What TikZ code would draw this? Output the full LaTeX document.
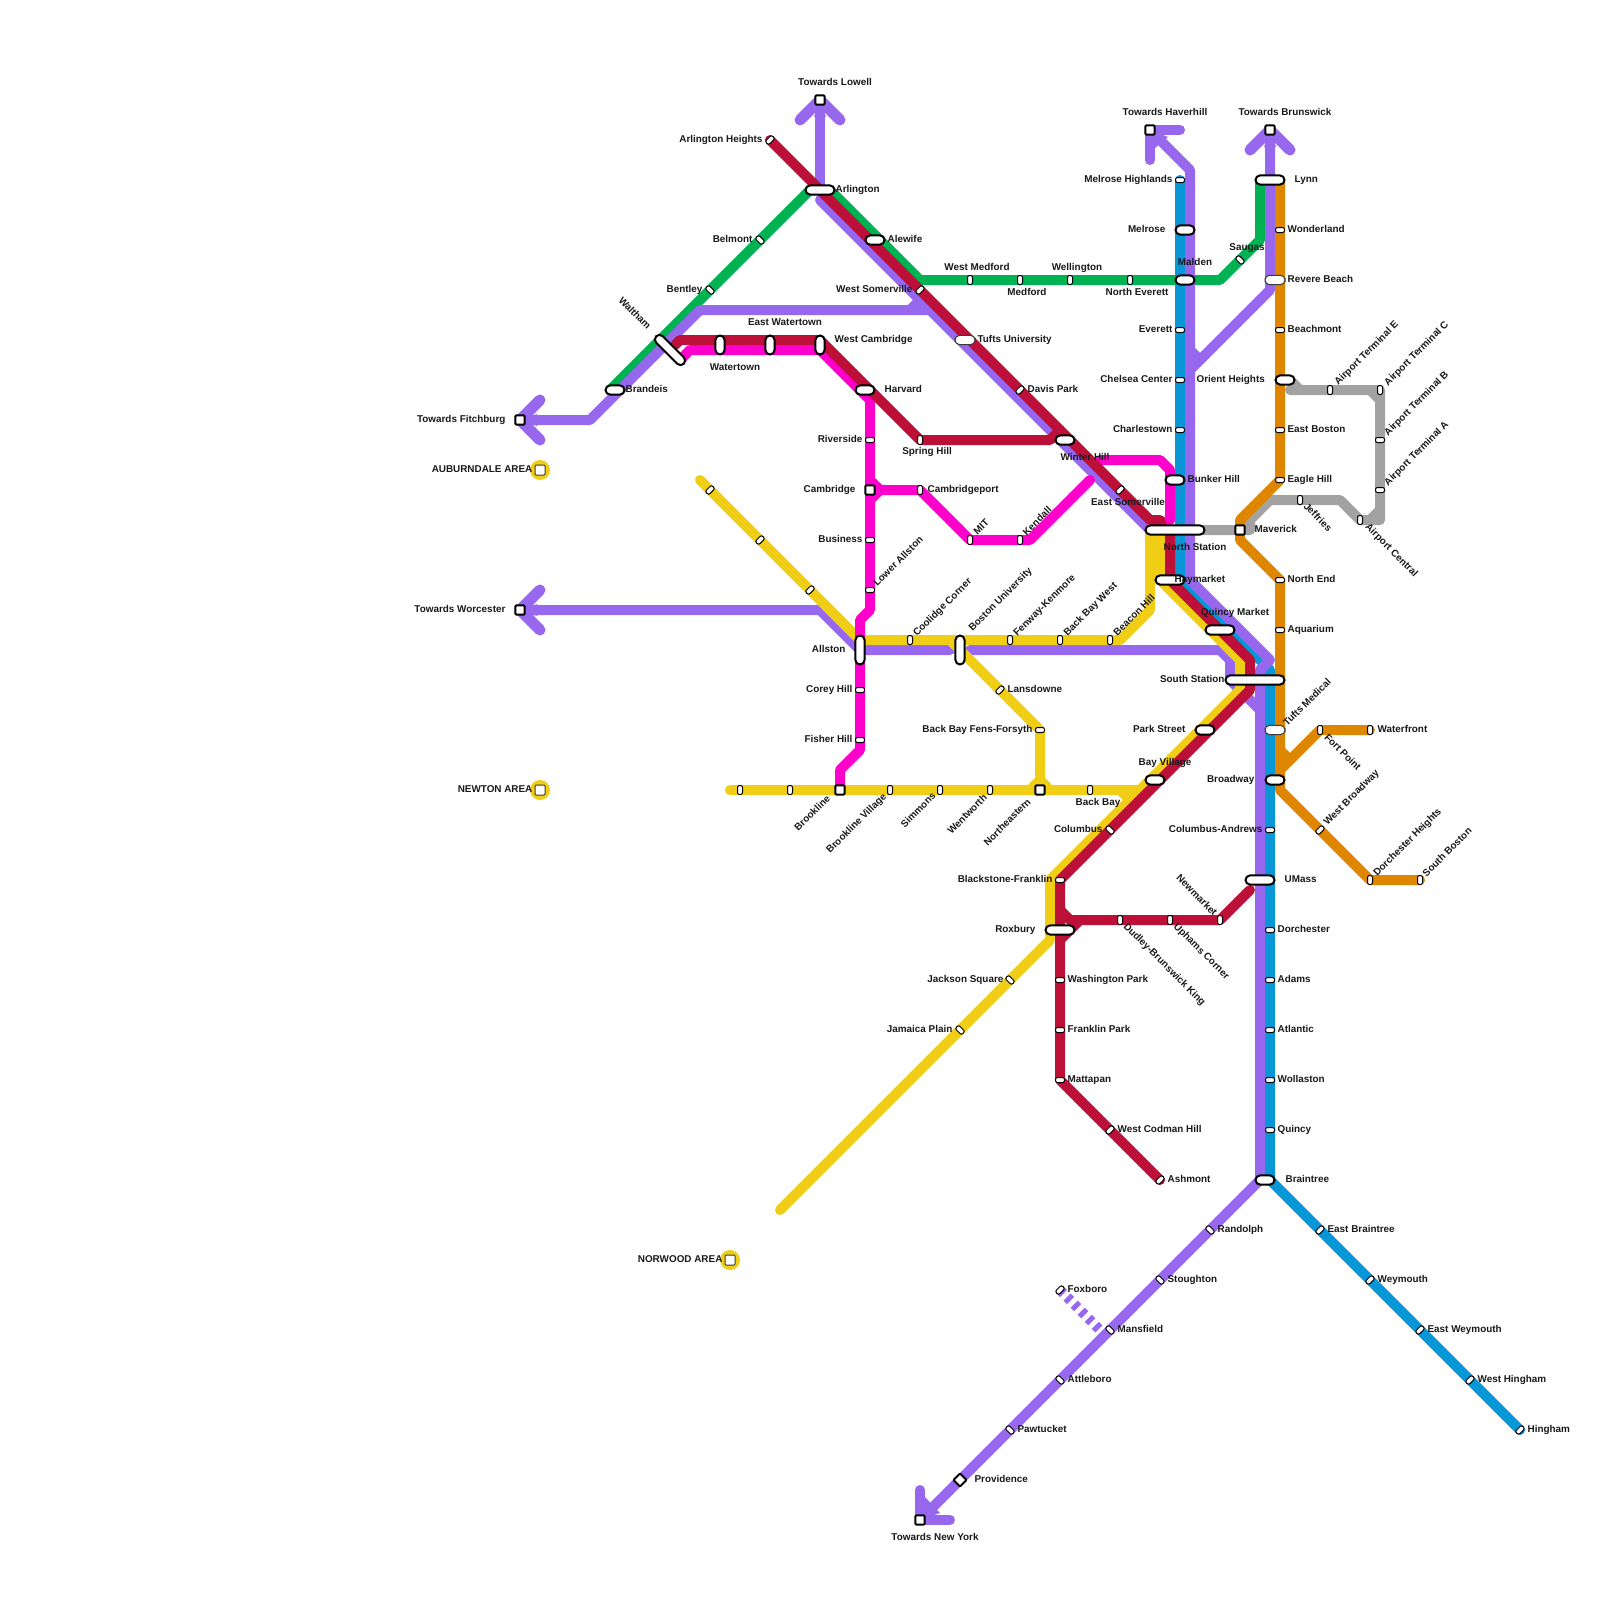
\documentclass[tikz,border=0pt]{standalone}
\usepackage{fontspec}
\setmainfont{Liberation Sans}
\definecolor{cGreen}{HTML}{00B251}
\definecolor{cPurple}{HTML}{9768EE}
\definecolor{cRed}{HTML}{BD1038}
\definecolor{cMagenta}{HTML}{FF00CC}
\definecolor{cBlue}{HTML}{0896D7}
\definecolor{cOrange}{HTML}{DF8600}
\definecolor{cYellow}{HTML}{F0CE15}
\definecolor{cGray}{HTML}{A2A2A2}
\definecolor{cSoft}{HTML}{3A3A3A}
\pgfdeclarelayer{lines}
\pgfsetlayers{lines,main}
\tikzset{
  ln/.style={line width=5pt,line cap=round,line join=round},
  arm/.style={line width=5.5pt,line cap=round,line join=round,cPurple},
  sm/.style={draw=black,fill=white,line width=.5pt,inner sep=0pt,minimum width=4.5pt,minimum height=2.5pt,rounded corners=1pt},
  pill/.style={draw=black,fill=white,line width=1pt,inner sep=0pt,minimum width=#1,minimum height=4.6pt,rounded corners=2.3pt},
  softpill/.style={draw=cSoft,fill=white,line width=.5pt,inner sep=0pt,minimum width=#1,minimum height=4.7pt,rounded corners=2.35pt},
  sq/.style={draw=black,fill=white,line width=1pt,inner sep=0pt,minimum size=4.6pt,rounded corners=.5pt},
  softsq/.style={draw=cSoft,fill=white,line width=.5pt,inner sep=0pt,minimum size=5pt,rounded corners=.5pt},
  tx/.style={font=\bfseries\fontsize{4.95pt}{6pt}\selectfont,inner sep=0pt,text height=3.6pt,text depth=0pt,text=black!90},
  lL/.style={tx,anchor=west,xshift=-.4pt},
  lR/.style={tx,anchor=east,xshift=.4pt},
  lC/.style={tx},
  lU/.style={tx,rotate=45},
  lD/.style={tx,rotate=-45},
  V/.style={rotate=90},
  U/.style={rotate=45},
  D/.style={rotate=-45}
}
\newcommand{\St}[4]{\node[#2] (#1) at (#3,#4) {};}
\newcommand{\Lb}[5]{\node[#2] (#1) at (#3,#4) {#5};}
\begin{document}
\begin{tikzpicture}[x=.5pt,y=-.5pt]
\useasboundingbox (0,0) rectangle (1600,1600);
% area markers
\fill[cYellow] (540,470) circle (10);
\fill[cYellow] (540,790) circle (10);
\fill[cYellow] (730,1260) circle (10);
\St{aub}{softsq}{540}{470}
\St{new}{softsq}{540}{790}
\St{nor}{softsq}{730}{1260}
% terminals
\St{lowell}{sq}{820}{100}
\St{fitch}{sq}{520}{420}
\St{worc}{sq}{520}{610}
\St{haver}{sq}{1150}{130}
\St{brun}{sq}{1270}{130}
\St{ny}{sq}{920}{1520}
\St{prov}{sq,rotate=45}{960}{1480}
% top left
\St{aheights}{sm,U}{770}{140}
\St{arl}{pill=14.5pt}{820}{190}
\St{belm}{sm,D}{760}{240}
\St{bent}{sm,D}{710}{290}
\St{walt}{pill=19.5pt,D}{670}{350}
\St{brand}{pill=9.5pt}{615}{390}
\St{ewat}{pill=9.5pt,V}{770}{345}
\St{wat}{pill=9.5pt,V}{720}{345}
\St{wcam}{pill=9.5pt,V}{820}{345}
\St{harv}{pill=9.5pt}{865}{390}
\St{river}{sm}{870}{440}
\St{cam}{sq}{870}{490}
\St{camp}{sm,V}{920}{490}
\St{spring}{sm,V}{920}{440}
\St{alew}{pill=9.5pt}{875}{240}
\St{wsom}{sm,U}{920}{290}
\St{tufts}{softpill=10pt}{965}{340}
\St{davis}{sm,U}{1020}{390}
\St{winter}{pill=9.5pt}{1065}{440}
\St{esom}{sm,U}{1120}{490}
% green row
\St{wmed}{sm,V}{970}{280}
\St{med}{sm,V}{1020}{280}
\St{well}{sm,V}{1070}{280}
\St{nev}{sm,V}{1130}{280}
\St{saug}{sm,D}{1240}{260}
% blue/purple column
\St{melh}{sm}{1180}{180}
\St{melr}{pill=9.5pt}{1185}{230}
\St{mald}{pill=9.5pt}{1185}{280}
\St{ever}{sm}{1180}{330}
\St{chel}{sm}{1180}{380}
\St{charl}{sm}{1180}{430}
\St{bunk}{pill=9.5pt}{1175}{480}
\St{nsta}{pill=29.5pt}{1175}{530}
\St{hay}{pill=14.5pt}{1170}{580}
\St{qm}{pill=14.5pt}{1220}{630}
\St{ssta}{pill=29.5pt}{1255}{680}
\St{park}{pill=9.5pt}{1205}{730}
\St{bayv}{pill=9.5pt}{1155}{780}
\St{colu}{sm,D}{1110}{830}
\St{blf}{sm}{1060}{880}
\St{rox}{pill=14.5pt}{1060}{930}
\St{wash}{sm}{1060}{980}
\St{frank}{sm}{1060}{1030}
\St{matt}{sm}{1060}{1080}
\St{wcod}{sm,U}{1110}{1130}
\St{ash}{sm,U}{1160}{1180}
\St{dud}{sm,V}{1120}{920}
\St{uph}{sm,V}{1170}{920}
\St{newm}{sm,V}{1220}{920}
% orange column
\St{lynn}{pill=14.5pt}{1270}{180}
\St{wond}{sm}{1280}{230}
\St{rev}{softpill=10pt}{1275}{280}
\St{beach}{sm}{1280}{330}
\St{ori}{pill=9.5pt}{1285}{380}
\St{ebos}{sm}{1280}{430}
\St{eagle}{sm}{1280}{480}
\St{mav}{sq}{1240}{530}
\St{nend}{sm}{1280}{580}
\St{aqua}{sm}{1280}{630}
\St{tmed}{softpill=10pt}{1275}{730}
\St{broad}{pill=9.5pt}{1275}{780}
\St{fort}{sm,V}{1320}{730}
\St{wfront}{sm,V}{1370}{730}
\St{wbro}{sm,U}{1320}{830}
\St{dorh}{sm,V}{1370}{880}
\St{sbos}{sm,V}{1420}{880}
% gray
\St{ate}{sm,V}{1330}{390}
\St{atc}{sm,V}{1380}{390}
\St{atb}{sm}{1380}{440}
\St{ata}{sm}{1380}{490}
\St{jeff}{sm,V}{1300}{500}
\St{apc}{sm,V}{1360}{520}
% lower blue
\St{cand}{sm}{1270}{830}
\St{umass}{pill=14.5pt}{1260}{880}
\St{dorc}{sm}{1270}{930}
\St{adams}{sm}{1270}{980}
\St{atl}{sm}{1270}{1030}
\St{woll}{sm}{1270}{1080}
\St{quin}{sm}{1270}{1130}
\St{brain}{pill=9.5pt}{1265}{1180}
\St{ebra}{sm,U}{1320}{1230}
\St{weym}{sm,U}{1370}{1280}
\St{ewey}{sm,U}{1420}{1330}
\St{whin}{sm,U}{1470}{1380}
\St{hing}{sm,U}{1520}{1430}
% lower purple
\St{rand}{sm,D}{1210}{1230}
\St{stou}{sm,D}{1160}{1280}
\St{mans}{sm,D}{1110}{1330}
\St{attl}{sm,D}{1060}{1380}
\St{pawt}{sm,D}{1010}{1430}
\St{foxb}{sm,U}{1060}{1290}
\coordinate (foxend) at (1100,1330);
% magenta / yellow
\St{bus}{sm}{870}{540}
\St{lall}{sm}{870}{590}
\St{mit}{sm,V}{970}{540}
\St{kend}{sm,V}{1020}{540}
\St{allst}{pill=14.5pt,V}{860}{650}
\St{corey}{sm}{860}{690}
\St{fish}{sm}{860}{740}
\St{yel1}{sm,U}{710}{490}
\St{yel2}{sm,U}{760}{540}
\St{yel3}{sm,U}{810}{590}
\St{cool}{sm,V}{910}{640}
\St{bu}{pill=14.5pt,V}{960}{650}
\St{fenw}{sm,V}{1010}{640}
\St{bbw}{sm,V}{1060}{640}
\St{beac}{sm,V}{1110}{640}
\St{lans}{sm,U}{1000}{690}
\St{bbf}{sm}{1040}{730}
\St{y790a}{sm,V}{740}{790}
\St{y790b}{sm,V}{790}{790}
\St{brook}{sq}{840}{790}
\St{bvil}{sm,V}{890}{790}
\St{simm}{sm,V}{940}{790}
\St{went}{sm,V}{990}{790}
\St{neast}{sq}{1040}{790}
\St{bbay}{sm,V}{1090}{790}
\St{jack}{sm,D}{1010}{980}
\St{jam}{sm,D}{960}{1030}
% labels
\Lb{t1}{lC}{835}{82}{Towards Lowell}
\Lb{t2}{lC}{1165}{112}{Towards Haverhill}
\Lb{t3}{lC}{1285}{112}{Towards Brunswick}
\Lb{t4}{lR}{505}{419}{Towards Fitchburg}
\Lb{t5}{lR}{505}{609}{Towards Worcester}
\Lb{t6}{lC}{935}{1537}{Towards New York}
\Lb{t7}{lR}{532}{469}{AUBURNDALE AREA}
\Lb{t8}{lR}{532}{789}{NEWTON AREA}
\Lb{t9}{lR}{722}{1259}{NORWOOD AREA}
\Lb{a1}{lR}{762}{139}{Arlington Heights}
\Lb{a2}{lL}{836}{189}{Arlington}
\Lb{a3}{lR}{752}{239}{Belmont}
\Lb{a4}{lR}{702}{289}{Bentley}
\Lb{a5}{lD}{635}{313}{Waltham}
\Lb{a6}{lL}{626}{389}{Brandeis}
\Lb{a7}{lC}{785}{322}{East Watertown}
\Lb{a8}{lC}{735}{367}{Watertown}
\Lb{a9}{lL}{835}{339}{West Cambridge}
\Lb{b1}{lL}{885}{389}{Harvard}
\Lb{b2}{lR}{862}{439}{Riverside}
\Lb{b3}{lR}{855}{489}{Cambridge}
\Lb{b4}{lL}{928}{489}{Cambridgeport}
\Lb{b5}{lC}{927}{451}{Spring Hill}
\Lb{b6}{lL}{888}{239}{Alewife}
\Lb{b7}{lR}{912}{289}{West Somerville}
\Lb{b8}{lL}{978}{339}{Tufts University}
\Lb{b9}{lL}{1028}{389}{Davis Park}
\Lb{c1}{lC}{1085}{457}{Winter Hill}
\Lb{c2}{lC}{1128}{502}{East Somerville}
\Lb{c3}{lC}{977}{267}{West Medford}
\Lb{c4}{lC}{1027}{292}{Medford}
\Lb{c5}{lC}{1077}{267}{Wellington}
\Lb{c6}{lC}{1137}{292}{North Everett}
\Lb{c7}{lC}{1247}{247}{Saugas}
\Lb{d1}{lR}{1172}{179}{Melrose Highlands}
\Lb{d2}{lR}{1165}{229}{Melrose}
\Lb{d3}{lC}{1195}{262}{Malden}
\Lb{d4}{lR}{1172}{329}{Everett}
\Lb{d5}{lR}{1172}{379}{Chelsea Center}
\Lb{d6}{lL}{1197}{379}{Orient Heights}
\Lb{d7}{lR}{1172}{429}{Charlestown}
\Lb{d8}{lL}{1188}{479}{Bunker Hill}
\Lb{d9}{lC}{1195}{547}{North Station}
\Lb{e1}{lL}{1175}{579}{Haymarket}
\Lb{e2}{lC}{1235}{612}{Quincy Market}
\Lb{e3}{lR}{1224}{679}{South Station}
\Lb{e4}{lR}{1185}{729}{Park Street}
\Lb{e5}{lC}{1165}{762}{Bay Village}
\Lb{e6}{lC}{1098}{802}{Back Bay}
\Lb{e7}{lR}{1102}{829}{Columbus}
\Lb{e8}{lR}{1052}{879}{Blackstone-Franklin}
\Lb{e9}{lR}{1035}{929}{Roxbury}
\Lb{f1}{lL}{1068}{979}{Washington Park}
\Lb{f2}{lL}{1068}{1029}{Franklin Park}
\Lb{f3}{lL}{1068}{1079}{Mattapan}
\Lb{f4}{lL}{1118}{1129}{West Codman Hill}
\Lb{f5}{lL}{1168}{1179}{Ashmont}
\Lb{f6}{lR}{1003}{979}{Jackson Square}
\Lb{f7}{lR}{952}{1029}{Jamaica Plain}
\Lb{f8}{lD}{1165}{964}{Dudley-Brunswick King}
\Lb{f9}{lD}{1202}{951}{Uphams Corner}
\Lb{g1}{lD}{1197}{895}{Newmarket}
\Lb{g2}{lL}{1295}{179}{Lynn}
\Lb{g3}{lL}{1288}{229}{Wonderland}
\Lb{g4}{lL}{1288}{279}{Revere Beach}
\Lb{g5}{lL}{1288}{329}{Beachmont}
\Lb{g6}{lL}{1288}{429}{East Boston}
\Lb{g7}{lL}{1288}{479}{Eagle Hill}
\Lb{g8}{lL}{1255}{529}{Maverick}
\Lb{g9}{lL}{1288}{579}{North End}
\Lb{h1}{lL}{1288}{629}{Aquarium}
\Lb{h2}{lU}{1307}{702}{Tufts Medical}
\Lb{h3}{lD}{1343}{752}{Fort Point}
\Lb{h4}{lL}{1378}{729}{Waterfront}
\Lb{h5}{lR}{1254}{779}{Broadway}
\Lb{h6}{lU}{1351}{797}{West Broadway}
\Lb{h7}{lU}{1407}{842}{Dorchester Heights}
\Lb{h8}{lU}{1447}{852}{South Boston}
\Lb{h9}{lU}{1366}{353}{Airport Terminal E}
\Lb{i1}{lU}{1416}{353}{Airport Terminal C}
\Lb{i2}{lU}{1416}{403}{Airport Terminal B}
\Lb{i3}{lU}{1416}{453}{Airport Terminal A}
\Lb{i4}{lD}{1318}{517}{Jeffries}
\Lb{i5}{lD}{1392}{550}{Airport Central}
\Lb{j1}{lR}{1262}{829}{Columbus-Andrews}
\Lb{j2}{lL}{1285}{879}{UMass}
\Lb{j3}{lL}{1278}{929}{Dorchester}
\Lb{j4}{lL}{1278}{979}{Adams}
\Lb{j5}{lL}{1278}{1029}{Atlantic}
\Lb{j6}{lL}{1278}{1079}{Wollaston}
\Lb{j7}{lL}{1278}{1129}{Quincy}
\Lb{j8}{lL}{1286}{1179}{Braintree}
\Lb{k1}{lL}{1328}{1229}{East Braintree}
\Lb{k2}{lL}{1378}{1279}{Weymouth}
\Lb{k3}{lL}{1428}{1329}{East Weymouth}
\Lb{k4}{lL}{1478}{1379}{West Hingham}
\Lb{k5}{lL}{1528}{1429}{Hingham}
\Lb{k6}{lL}{1218}{1229}{Randolph}
\Lb{k7}{lL}{1168}{1279}{Stoughton}
\Lb{k8}{lL}{1118}{1329}{Mansfield}
\Lb{k9}{lL}{1068}{1379}{Attleboro}
\Lb{l1}{lL}{1018}{1429}{Pawtucket}
\Lb{l2}{lL}{975}{1479}{Providence}
\Lb{l3}{lL}{1068}{1289}{Foxboro}
\Lb{m1}{lR}{862}{539}{Business}
\Lb{m2}{lU}{898}{561}{Lower Allston}
\Lb{m3}{lU}{981}{527}{MIT}
\Lb{m4}{lU}{1037}{521}{Kendall}
\Lb{m5}{lR}{845}{649}{Allston}
\Lb{m6}{lR}{852}{689}{Corey Hill}
\Lb{m7}{lR}{852}{739}{Fisher Hill}
\Lb{m8}{lU}{942}{607}{Coolidge Corner}
\Lb{m9}{lU}{1000}{599}{Boston University}
\Lb{n1}{lU}{1044}{605}{Fenway-Kenmore}
\Lb{n2}{lU}{1090}{609}{Back Bay West}
\Lb{n3}{lU}{1134}{615}{Beacon Hill}
\Lb{n4}{lL}{1008}{689}{Lansdowne}
\Lb{n5}{lR}{1032}{729}{Back Bay Fens-Forsyth}
\Lb{n6}{lU}{812}{813}{Brookline}
\Lb{n7}{lU}{856}{823}{Brookline Village}
\Lb{n8}{lU}{918}{810}{Simmons}
\Lb{n9}{lU}{967}{814}{Wentworth}
\Lb{o1}{lU}{1007}{822}{Northeastern}
\begin{pgfonlayer}{lines}
% green
\draw[ln,cGreen] (610,390) -- (810,190) -- (830,190) -- (920,280) -- (1220,280) -- (1260,240) -- (1260,180);
% blue
\draw[ln,cBlue] (melh.center) -- (1180,580) -- (1270,670) -- (1270,1180) -- (hing.center);
% purple
\draw[arm] (800,120) -- (lowell.center) -- (840,120);
\fill[cPurple] (lowell.center) -- (814,117) -- (826,117) -- cycle;
\draw[ln,cPurple] (lowell.center) -- (820,190);
\draw[ln,cPurple] (820,200) -- (1150,530);
\draw[arm] (540,400) -- (fitch.center) -- (540,440);
\fill[cPurple] (fitch.center) -- (537,414) -- (537,426) -- cycle;
\draw[ln,cPurple] (fitch.center) -- (590,420) -- (700,310) -- (930,310);
\draw[ln,cPurple] (910,310) -- (920,300);
\draw[arm] (540,590) -- (worc.center) -- (540,630);
\fill[cPurple] (worc.center) -- (537,604) -- (537,616) -- cycle;
\draw[ln,cPurple] (worc.center) -- (820,610) -- (860,650) -- (950,650);
\draw[ln,cPurple] (970,650) -- (1220,650) -- (1230,660) -- (1230,680) -- (1260,710) -- (1260,1180);
\draw[ln,cPurple] (1150,160) -- (haver.center) -- (1180,130);
\fill[cPurple] (haver.center) -- (1155,148) -- (1168,137) -- cycle;
\draw[ln,cPurple] (haver.center) -- (1190,170) -- (1190,580) -- (1270,660) -- (1260,670) -- (1260,1180) -- (ny.center);
\draw[ln,cPurple] (920,1490) -- (ny.center) -- (950,1520);
\fill[cPurple] (ny.center) -- (925,1497) -- (940,1513) -- cycle;
\draw[arm] (1250,150) -- (brun.center) -- (1290,150);
\fill[cPurple] (brun.center) -- (1264,147) -- (1276,147) -- cycle;
\draw[ln,cPurple] (brun.center) -- (1270,290) -- (1190,370);
\draw[ln,cPurple] (1190,350) -- (1200,360);
\draw[cPurple,line width=5pt,dash pattern=on 2.5pt off 2.5pt] (foxb.center) -- (foxend);
% gray
\draw[ln,cGray] (nsta.center) -- (1250,530) -- (1250,520) -- (1270,500) -- (1340,500) -- (apc.center) -- (1380,520) -- (atc.center) -- (1290,390);
\draw[ln,cGray] (1370,520) -- (1380,510);
\draw[ln,cGray] (1370,390) -- (1380,400);
\draw[ln,cGray] (1290,380) -- (1300,390);
% orange
\draw[ln,cOrange] (1280,180) -- (eagle.center) -- (1240,520) -- (1240,540) -- (nend.center) -- (1280,790) -- (dorh.center) -- (sbos.center);
\draw[ln,cOrange] (1280,750) -- (1290,760);
\draw[ln,cOrange] (1280,770) -- (fort.center) -- (wfront.center);
% yellow
\draw[ln,cYellow] (700,480) -- (860,640) -- (1120,640) -- (1150,610) -- (1150,530);
\draw[ln,cYellow] (1160,530) -- (1160,580) -- (1240,660) -- (1240,690) -- (1050,880) -- (1050,940) -- (780,1210);
\draw[ln,cYellow] (950,640) -- (bbf.center) -- (neast.center);
\draw[ln,cYellow] (1030,790) -- (1040,780) -- (1050,790);
\draw[ln,cYellow] (730,790) -- (1140,790);
\draw[ln,cYellow] (1120,790) -- (1130,800);
% magenta
\draw[ln,cMagenta] (680,360) -- (690,350) -- (820,350) -- (870,400) -- (870,610) -- (860,620) -- (860,750) -- (840,770) -- (brook.center);
\draw[ln,cMagenta] (870,480) -- (880,490) -- (camp.center) -- (mit.center) -- (1030,540) -- (1090,480);
\draw[ln,cMagenta] (870,500) -- (880,490);
\draw[ln,cMagenta] (1100,460) -- (1160,460) -- (1170,470) -- (1170,520);
% red
\draw[ln,cRed] (aheights.center) -- (1150,520) -- (1160,520) -- (1170,530) -- (1170,580) -- (1250,660) -- (1250,690) -- (blf.center) -- (matt.center) -- (ash.center);
\draw[ln,cRed] (675,345) -- (680,340) -- (820,340) -- (spring.center) -- (1050,440) -- (1060,430);
\draw[ln,cRed] (1250,890) -- (newm.center) -- (1070,920) -- (1060,910);
\draw[ln,cRed] (1080,920) -- (1060,940);
\draw[ln,cMagenta] (1170,500) -- (1170,520);
\end{pgfonlayer}
\end{tikzpicture}
\end{document}
